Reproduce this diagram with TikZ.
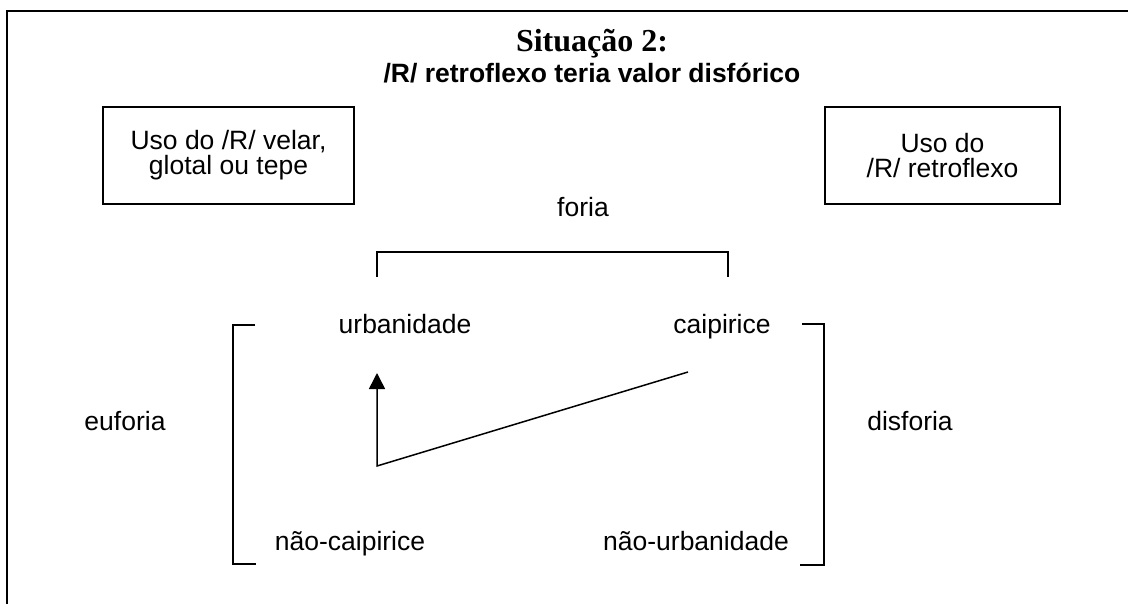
\documentclass[tikz,border=0pt]{standalone}
\usepackage{fontspec}
\setmainfont{Liberation Sans}
\newfontfamily\serifa{Liberation Serif}
\usetikzlibrary{arrows.meta}
\tikzset{
	caixa/.style={draw, line width=1.5pt, align=center, inner sep=0pt, minimum height=97pt},
	rotulo/.style={anchor=base, inner sep=0pt},
	traco/.style={line width=1.5pt}
}
\begin{document}
\begin{tikzpicture}[x=1pt, y=-1pt, font=\fontsize{26.5}{25}\selectfont]
	\useasboundingbox (0,0) rectangle (1128,604);
	\draw [traco] (7,604) -- (7,11) -- (1128,11);
	\node [rotulo, font=\serifa\bfseries\fontsize{32}{36}\selectfont] (titulo) at (592,52) {Situação 2:};
	\node [rotulo, font=\bfseries\fontsize{26.5}{30}\selectfont] (subtitulo) at (592,83) {/R/ retroflexo teria valor disfórico};
	\node [caixa, minimum width=251pt] (velar) at (228.5,155.5) {Uso do /R/ velar,\\glotal ou tepe};
	\node [caixa, minimum width=235pt] (retroflexo) at (942.5,155.5) {Uso do\\/R/ retroflexo};
	\node [rotulo] (foria) at (583,217) {foria};
	\node [rotulo] (urbanidade) at (405,334) {urbanidade};
	\node [rotulo] (caipirice) at (722,334) {caipirice};
	\node [rotulo] (euforia) at (125,430) {euforia};
	\node [rotulo] (disforia) at (910,430) {disforia};
	\node [rotulo] (naocaipirice) at (350,550) {não-caipirice};
	\node [rotulo] (naourbanidade) at (696,550) {não-urbanidade};
	\draw [traco] (377,277) -- (377,252) -- (728,252) -- (728,277);
	\draw [traco] (255,325) -- (233,325) -- (233,564) -- (256,564);
	\draw [traco] (802,324) -- (824,324) -- (824,565) -- (800,565);
	\coordinate (inicio) at (688,372);
	\coordinate (canto) at (377,466);
	\coordinate (ponta) at (377,373);
	\draw [traco, -{Triangle[width=16pt,length=16pt]}] (inicio) -- (canto) -- (ponta);
\end{tikzpicture}
\end{document}
